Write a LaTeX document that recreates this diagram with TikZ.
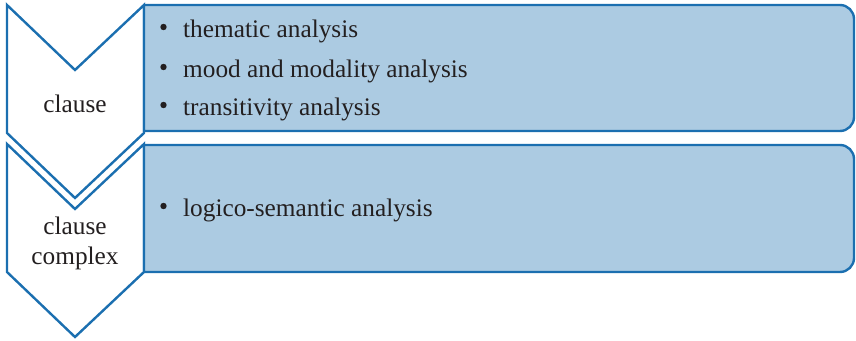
\documentclass[tikz,border=0pt]{standalone}
\usepackage{fontspec}
\setmainfont{Liberation Serif}
\definecolor{boxfill}{HTML}{ACCBE2}
\definecolor{boxline}{HTML}{1B6FB0}
\definecolor{txt}{HTML}{231F20}
\begin{document}
\begin{tikzpicture}[x=1pt,y=-1pt,
  chev/.style={draw=boxline,fill=white,line width=2.4pt,line join=miter},
  panel/.style={draw=boxline,fill=boxfill,line width=2.4pt},
  lbl/.style={font=\fontsize{25.3}{30}\selectfont,text=txt,align=center,inner sep=0pt},
  item/.style={font=\fontsize{25.3}{30}\selectfont,text=txt,anchor=base west,inner sep=0pt},
  dot/.style={circle,fill=txt,inner sep=0pt,minimum size=6.4pt}]
\useasboundingbox (0,0) rectangle (856,340);
% chevrons
\draw[chev] (7,5) -- (75,70) -- (144,5) -- (144,133) -- (75,198) -- (7,133) -- cycle;
\draw[chev] (7,144) -- (75,209) -- (144,144) -- (144,272) -- (75,337) -- (7,272) -- cycle;
% panels
\draw[panel] (144,5) [rounded corners=14pt] -- (854,5) -- (854,131) [sharp corners] -- (144,131) -- cycle;
\draw[panel] (144,145) [rounded corners=14pt] -- (854,145) -- (854,272) [sharp corners] -- (144,272) -- cycle;
% labels
\node[lbl,anchor=base] (c1) at (75,112) {clause};
\node[lbl] (c2) at (75,243) {clause\\complex};
% bullets
\node[dot] (d1) at (163.5,27) {};
\node[item] (t1) at (183,37) {thematic analysis};
\node[dot] (d2) at (163.5,67) {};
\node[item] (t2) at (183,77) {mood and modality analysis};
\node[dot] (d3) at (163.5,105) {};
\node[item] (t3) at (183,115) {transitivity analysis};
\node[dot] (d4) at (163.5,206) {};
\node[item] (t4) at (183,216) {logico-semantic analysis};
\end{tikzpicture}
\end{document}
